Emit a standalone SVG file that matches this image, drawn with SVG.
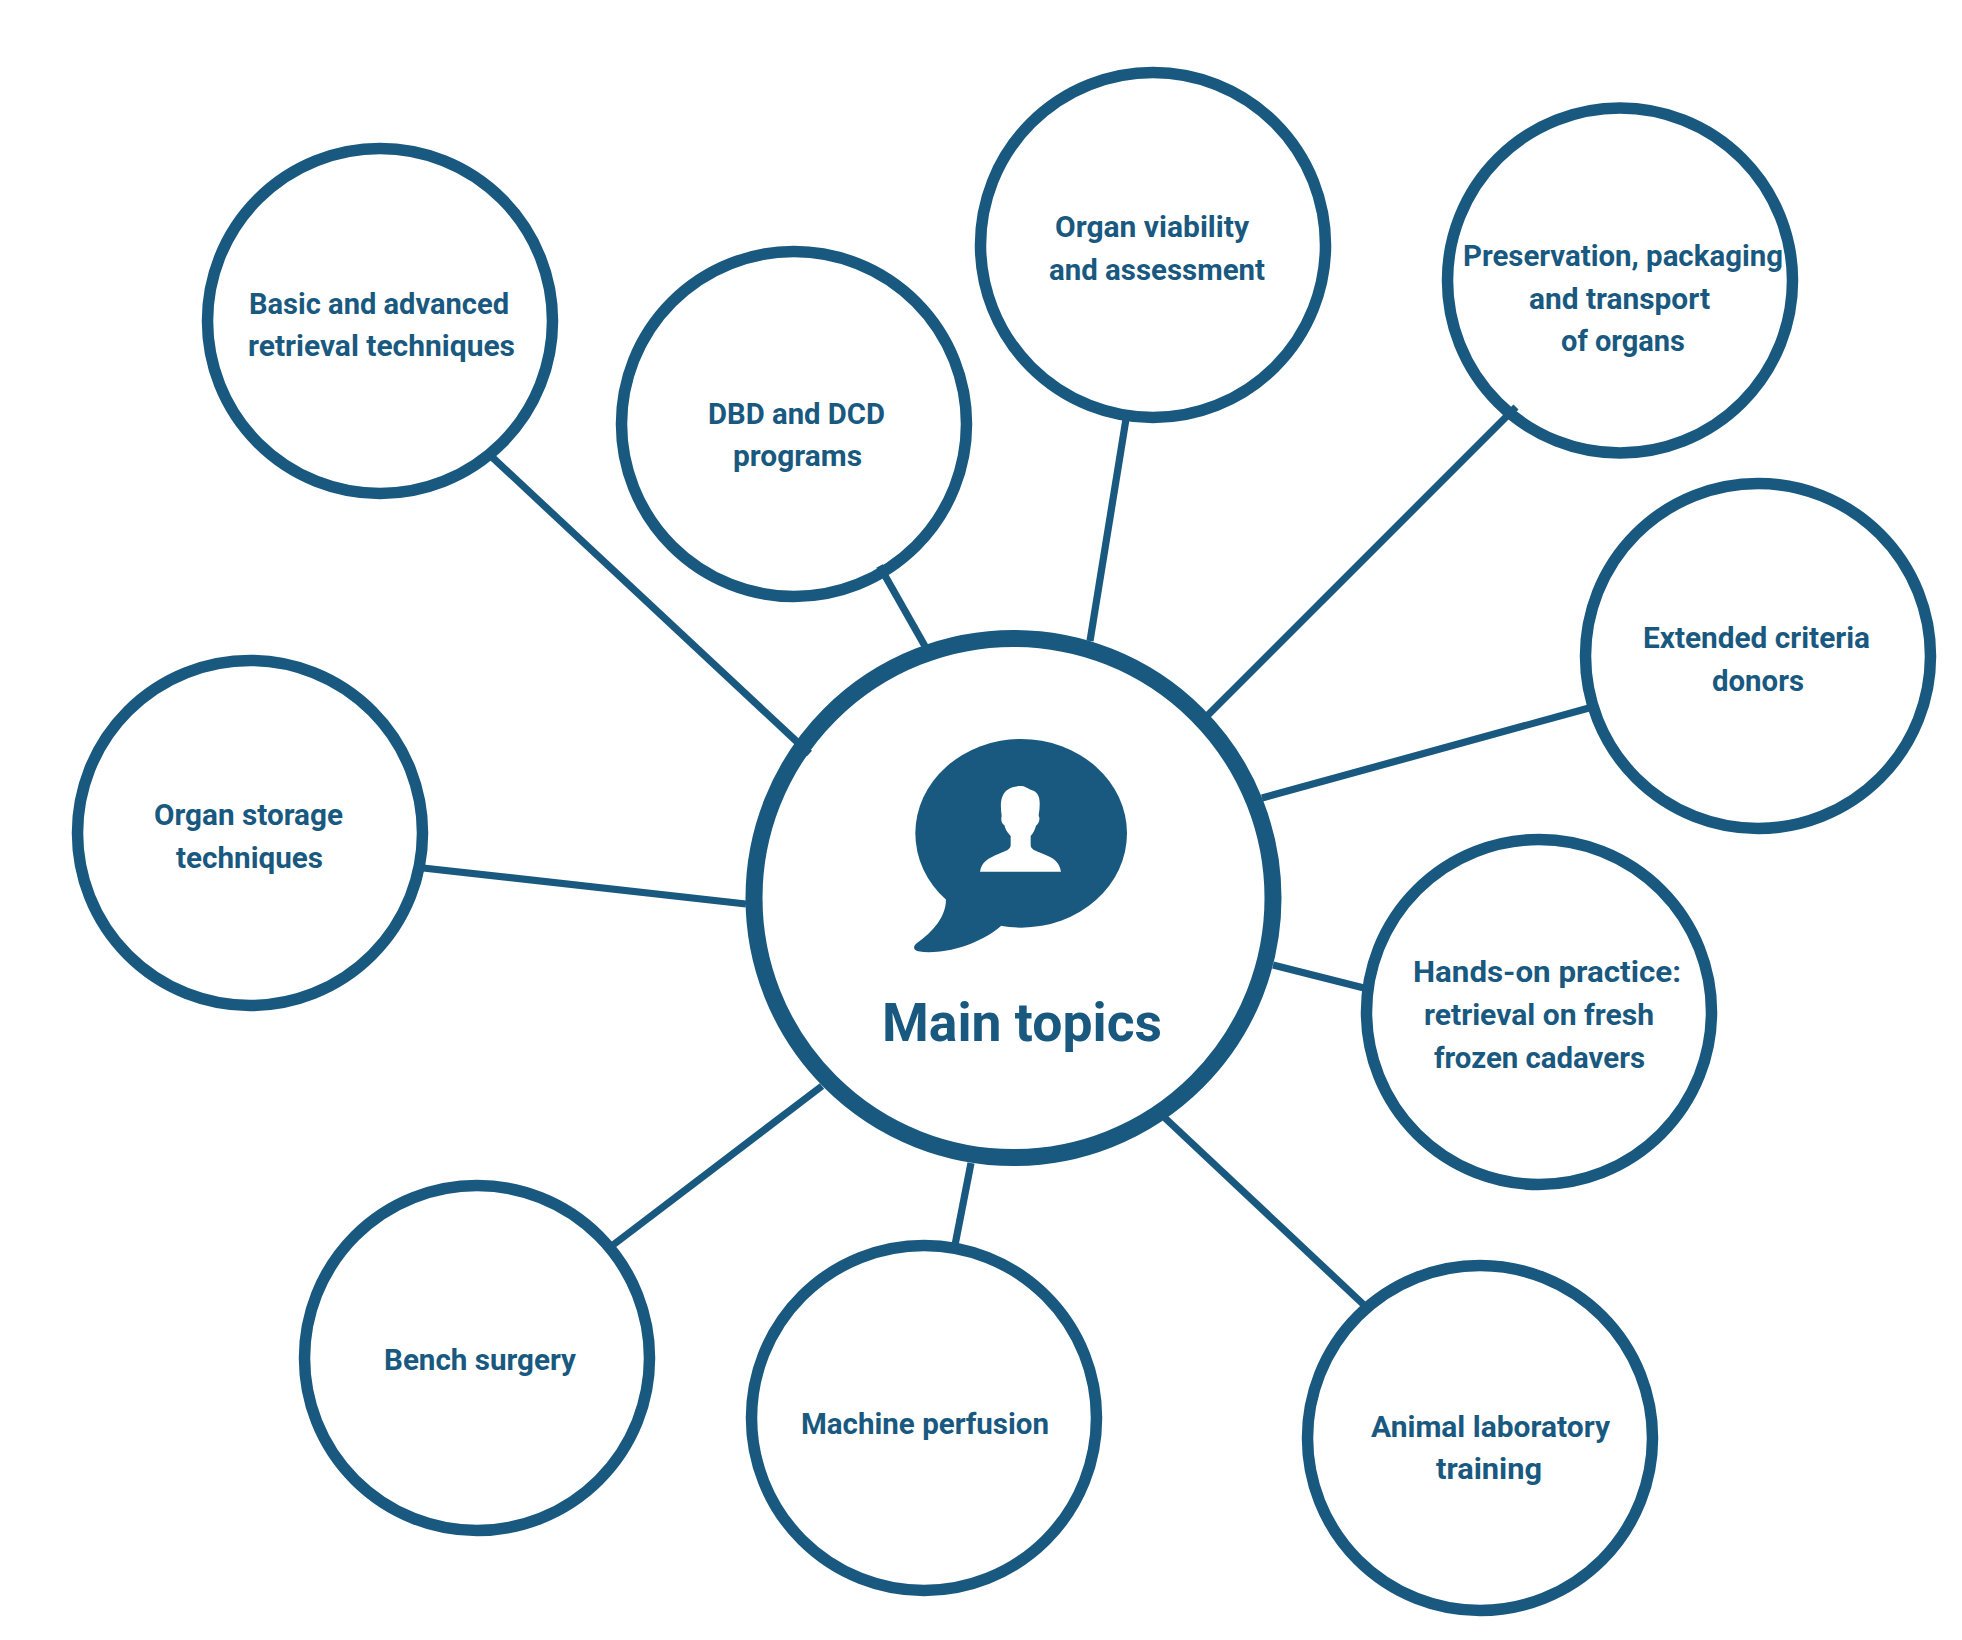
<svg xmlns="http://www.w3.org/2000/svg" width="1962" height="1640" viewBox="0 0 1962 1640">
<style>
.n{fill:#fff;stroke:#19597f;stroke-width:11.5}
.c{fill:#fff;stroke:#19597f;stroke-width:17}
.l{stroke:#19597f;stroke-width:7.2;fill:none}
text{font-family:"Roboto","Liberation Sans",sans-serif;font-weight:700;fill:#19597f;font-size:29.500px}
.t{font-size:54px}
</style>
<rect width="1962" height="1640" fill="#fff"/>
<g id="node-center">
<circle class="c" cx="1013.500" cy="898" r="259.500"/>
<g transform="translate(890,730) scale(.33333)">
<ellipse cx="393.500" cy="310" rx="317.500" ry="283" fill="#19597f"/>
<path fill="#19597f" d="M168,508C168,560 130,605 80,640C68,650 70,660 85,664C150,675 260,650 333,588L300,500Z"/>
<path fill="#fff" d="M270,425C275,395 295,385 325,372C350,362 362,358 362,345L362,318C350,305 345,295 343,285C335,282 332,270 335,258C332,235 331,215 337,200C345,178 365,168 395,168C410,170 415,178 430,182C445,188 450,205 449,225C449,240 446,250 446,258C451,265 448,280 438,287C435,298 430,310 422,318L422,345C422,358 435,362 460,372C490,383 508,395 513,425Z"/>
</g>
<text class="t" x="882" y="1041" textLength="280" lengthAdjust="spacingAndGlyphs">Main topics</text>
</g>
<g id="node-basic"><circle class="n" cx="380" cy="321" r="172.500"/>
<text x="249" y="313.500" textLength="260" lengthAdjust="spacingAndGlyphs">Basic and advanced</text>
<text x="248" y="356" textLength="267" lengthAdjust="spacingAndGlyphs">retrieval techniques</text></g>
<g id="node-dbd"><circle class="n" cx="794" cy="424" r="172.500"/>
<text x="708" y="424" textLength="177" lengthAdjust="spacingAndGlyphs">DBD and DCD</text>
<text x="733" y="466" textLength="129" lengthAdjust="spacingAndGlyphs">programs</text></g>
<g id="node-viability"><circle class="n" cx="1153" cy="245" r="172.500"/>
<text x="1055" y="237" textLength="194" lengthAdjust="spacingAndGlyphs">Organ viability</text>
<text x="1049" y="279.500" textLength="216" lengthAdjust="spacingAndGlyphs">and assessment</text></g>
<g id="node-preservation"><circle class="n" cx="1620" cy="280.500" r="172.500"/>
<text x="1463" y="266" textLength="320" lengthAdjust="spacingAndGlyphs">Preservation, packaging</text>
<text x="1529" y="308.500" textLength="181" lengthAdjust="spacingAndGlyphs">and transport</text>
<text x="1561" y="351" textLength="124" lengthAdjust="spacingAndGlyphs">of organs</text></g>
<g id="node-extended"><circle class="n" cx="1758" cy="656" r="172.500"/>
<text x="1643" y="648" textLength="227" lengthAdjust="spacingAndGlyphs">Extended criteria</text>
<text x="1712" y="691" textLength="92" lengthAdjust="spacingAndGlyphs">donors</text></g>
<g id="node-hands"><circle class="n" cx="1539" cy="1012" r="172.500"/>
<text x="1413" y="982" textLength="268" lengthAdjust="spacingAndGlyphs">Hands-on practice:</text>
<text x="1424" y="1025" textLength="230" lengthAdjust="spacingAndGlyphs">retrieval on fresh</text>
<text x="1434" y="1068" textLength="211" lengthAdjust="spacingAndGlyphs">frozen cadavers</text></g>
<g id="node-animal"><circle class="n" cx="1480" cy="1438" r="172.500"/>
<text x="1371" y="1437" textLength="239" lengthAdjust="spacingAndGlyphs">Animal laboratory</text>
<text x="1436" y="1479" textLength="106" lengthAdjust="spacingAndGlyphs">training</text></g>
<g id="node-machine"><circle class="n" cx="924" cy="1418" r="172.500"/>
<text x="801" y="1434" textLength="248" lengthAdjust="spacingAndGlyphs">Machine perfusion</text></g>
<g id="node-bench"><circle class="n" cx="477" cy="1358" r="172.500"/>
<text x="384" y="1370" textLength="192" lengthAdjust="spacingAndGlyphs">Bench surgery</text></g>
<g id="node-storage"><circle class="n" cx="250" cy="833" r="172.500"/>
<text x="154" y="825" textLength="189" lengthAdjust="spacingAndGlyphs">Organ storage</text>
<text x="176" y="868" textLength="147" lengthAdjust="spacingAndGlyphs">techniques</text></g>
<g id="connectors" class="l">
<line x1="492" y1="457" x2="809.500" y2="753.500"/>
<line x1="879.500" y1="566" x2="932" y2="658.500"/>
<line x1="1126" y1="419" x2="1090" y2="641"/>
<line x1="1516" y1="407" x2="1208" y2="715"/>
<line x1="1589" y1="708" x2="1262" y2="798"/>
<line x1="1364" y1="988" x2="1273" y2="965"/>
<line x1="1364" y1="1305" x2="1165" y2="1118"/>
<line x1="955" y1="1245" x2="971" y2="1163"/>
<line x1="613" y1="1245" x2="822" y2="1086"/>
<line x1="423" y1="868" x2="746" y2="904"/>
</g>
</svg>
